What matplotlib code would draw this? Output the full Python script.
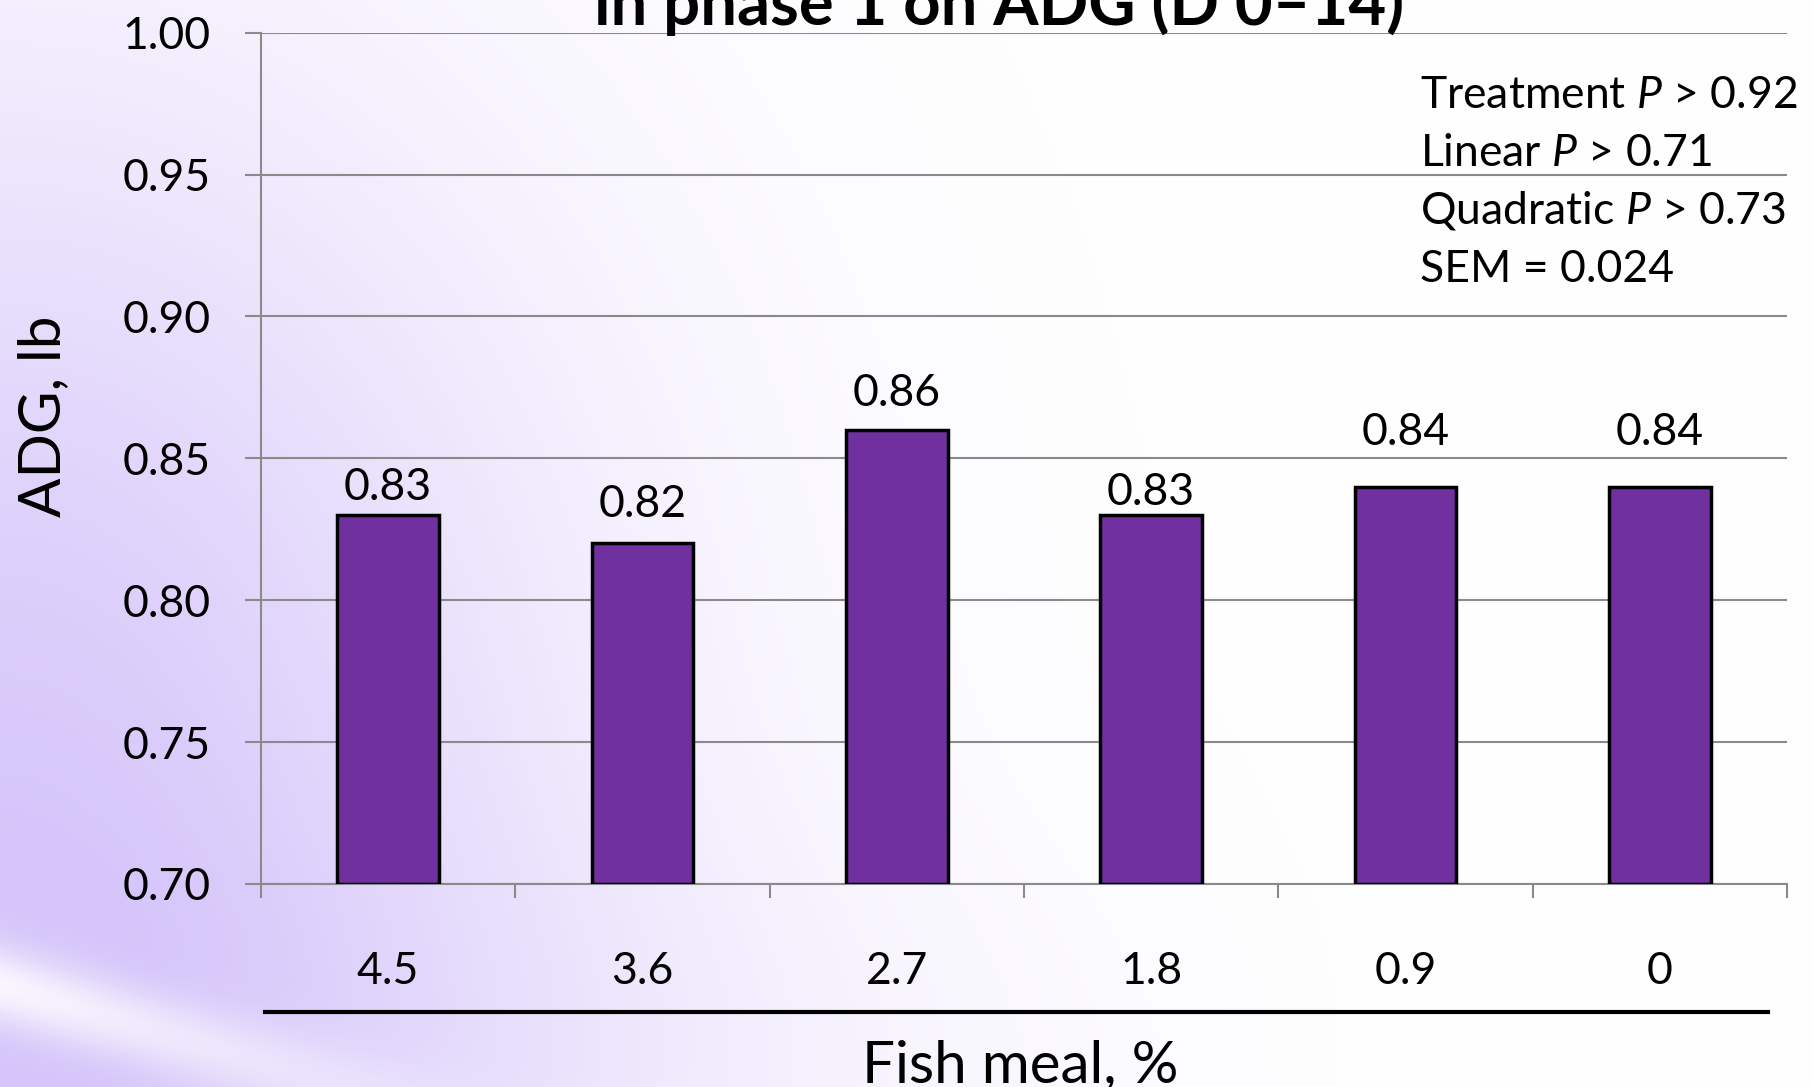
import numpy as np
import matplotlib
matplotlib.use("Agg")
import matplotlib.pyplot as plt
from matplotlib.lines import Line2D

plt.rcParams["font.family"] = ["Lato", "DejaVu Sans"]
plt.rcParams["mathtext.fontset"] = "custom"
plt.rcParams["mathtext.rm"] = "Lato"
plt.rcParams["mathtext.it"] = "Lato:italic"

# ---- data ----
fish_meal = ["4.5", "3.6", "2.7", "1.8", "0.9", "0"]
adg = [0.83, 0.82, 0.86, 0.83, 0.84, 0.84]
adg_labels = ["0.83", "0.82", "0.86", "0.83", "0.84", "0.84"]
y_ticks = [0.70, 0.75, 0.80, 0.85, 0.90, 0.95, 1.00]
stats_lines = [r"Treatment $\it{P}$ > 0.92",
               r"Linear $\it{P}$ > 0.71",
               r"Quadratic $\it{P}$ > 0.73",
               "SEM = 0.024"]

W, H = 1814, 1087
fig = plt.figure(figsize=(W / 100, H / 100), dpi=100)


def fx(px):
    return px / W


def fy(py):
    return 1 - py / H


# ---- lavender slide background ----
bg_ax = fig.add_axes([0, 0, 1, 1], zorder=-10)
yy, xx = np.mgrid[0:H, 0:W].astype(float)
w = 0.88 * np.exp(-1.4 * ((xx / 700.0) ** 2 + ((yy - 780) / 850.0) ** 2))
w += 0.30 * np.exp(-((yy - H) / 260.0) ** 2) * np.clip(1 - xx / 1400.0, 0, 1)
# soft white streak across the lower-left corner
d = np.array([350.0, 102.0])
d /= np.linalg.norm(d)
px, py = xx - 0.0, yy - 985.0
perp = np.abs(px * d[1] - py * d[0])
streak = np.exp(-(perp / 38.0) ** 2) * np.clip(1 - xx / 600.0, 0, 1)
w = np.clip(w, 0, 1) * (1 - 0.85 * streak)
lav = np.array([0.835, 0.77, 0.98])
img = 1 - w[..., None] * (1 - lav)
bg_ax.imshow(img, extent=[0, 1, 0, 1], aspect="auto", origin="upper")
bg_ax.axis("off")

# ---- chart ----
ax = fig.add_axes([fx(261), fy(884), fx(1787) - fx(261), fy(32.6) - fy(884)])
ax.patch.set_alpha(0)
x = np.arange(len(adg))
ax.bar(x, [v - 0.70 for v in adg], bottom=0.70, width=0.4, color="#7030A0",
       edgecolor="black", linewidth=2.5, zorder=3)

ax.set_xlim(-0.5, len(adg) - 0.5)
ax.set_ylim(0.70, 1.00)
ax.set_yticks(y_ticks)
ax.set_yticklabels([f"{t:.2f}" for t in y_ticks])
ax.yaxis.grid(True, color="#8a8a8a", linewidth=1.5, zorder=0)
ax.tick_params(axis="y", length=11.5, width=1.5, color="#8a8a8a",
               labelsize=32, pad=25)

ax.set_xticks(x)
ax.set_xticklabels(fish_meal)
ax.set_xticks(np.arange(-0.5, len(adg), 1.0), minor=True)
ax.tick_params(axis="x", which="major", length=0, labelsize=32, pad=48)
ax.tick_params(axis="x", which="minor", length=10, width=1.5, color="#8a8a8a")

for s in ["top", "right"]:
    ax.spines[s].set_visible(False)
for s in ["left", "bottom"]:
    ax.spines[s].set_color("#8a8a8a")
    ax.spines[s].set_linewidth(1.5)

# value labels above bars
label_offsets = [11, 19, 17, 7, 30, 30]
for xi, v, lab, off in zip(x, adg, adg_labels, label_offsets):
    ax.annotate(lab, (xi, v), xytext=(0, off), textcoords="offset points",
                ha="center", va="baseline", fontsize=32, zorder=4)

# statistics block
for i, line in enumerate(stats_lines):
    fig.text(fx(1420), fy(108 + 58 * i), line, fontsize=32,
             ha="left", va="baseline")

# rule under the category labels
fig.add_artist(Line2D([fx(265), fx(1768)], [fy(1012), fy(1012)],
                      color="black", linewidth=3))

# axis titles
fig.text(fx(1020), fy(1082), "Fish meal, %", fontsize=42,
         ha="center", va="baseline")
fig.text(fx(44), fy(416), "ADG, lb", fontsize=42, rotation=90,
         ha="center", va="center")

# slide title (lower line visible at top edge)
fig.text(fx(999), fy(25), "in phase 1 on ADG (D 0\u201314)", fontsize=47,
         fontweight="bold", ha="center", va="baseline")

fig.savefig("out.png", dpi=100)
